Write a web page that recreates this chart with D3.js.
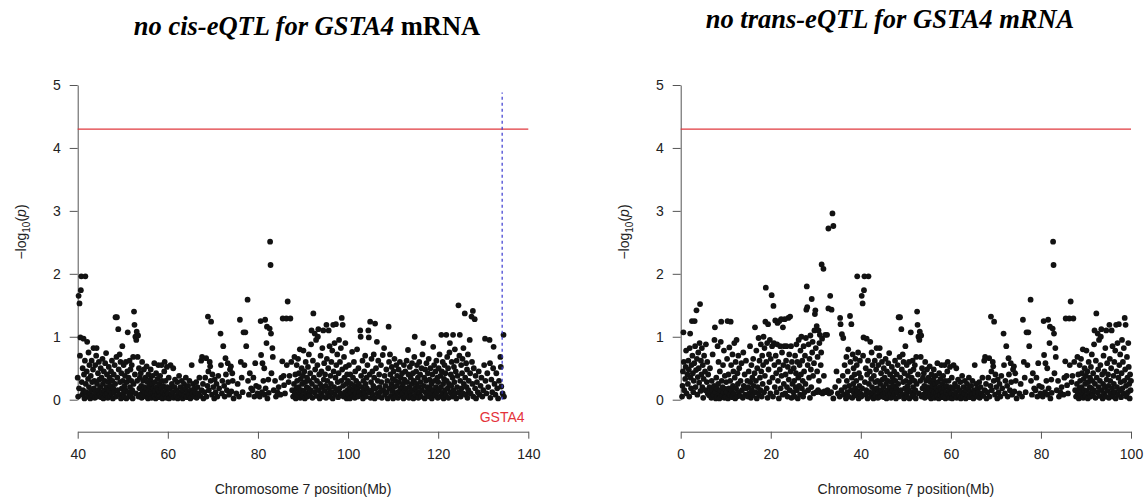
<!DOCTYPE html>
<html>
<head>
<meta charset="utf-8">
<script src="https://cdn.jsdelivr.net/npm/d3@7"></script>
<style>
  body { margin: 0; background: #fff; }
</style>
</head>
<body>
<svg id="chart" width="1146" height="500"></svg>
<script>
// [position (Mb), -log10(p)] on chromosome 7
var snps0to40 = [
  [0.3,0.05],[0.4,0.22],[0.5,0.45],[0.6,1.07],[0.7,0.6],[0.8,0.15],[1.0,0.33],[1.1,0.52],[1.2,0.78],[1.3,0.1],[1.5,0.4],[1.6,0.25],[1.7,0.62],[1.8,0.48],[1.9,0.05],[2.0,0.82],[2.1,1.05],[2.2,0.35],[2.3,0.18],[2.4,0.55],
  [2.5,1.25],[2.6,0.7],[2.7,0.42],[2.8,0.12],[2.9,0.3],[3.0,0.58],[3.1,1.25],[3.2,0.85],[3.3,0.2],[3.4,0.47],[3.5,1.42],[3.6,0.65],[3.7,0.08],[3.8,0.36],[3.9,0.75],
  [4.0,0.5],[4.1,0.27],[4.2,0.9],[4.3,1.52],[4.4,0.14],[4.5,0.62],[4.6,0.4],[4.7,0.82],[4.8,0.2],[4.9,0.55],[5.0,0.03],[5.1,0.33],[5.2,0.7],[5.4,0.45],[5.5,0.15],[5.6,0.88],[5.8,0.28],[5.9,0.6],
  [6.0,0.1],[6.1,0.4],[6.3,0.07],[6.4,0.2],[6.5,0.5],[6.6,0.13],[6.8,0.03],[6.9,0.3],[7.0,0.16],[7.1,0.72],[7.3,0.08],[7.4,0.22],[7.5,0.95],[7.6,1.15],[7.7,0.12],[7.8,0.02],[7.9,0.35],
  [8.0,0.18],[8.1,0.05],[8.2,0.85],[8.3,0.25],[8.4,0.6],[8.5,0.1],[8.6,0.02],[8.7,0.45],[8.8,0.15],[8.9,0.92],[9.0,1.24],[9.1,0.3],[9.2,0.07],[9.3,0.2],[9.4,0.55],[9.5,0.12],[9.6,0.78],[9.7,0.03],[9.8,0.38],[9.9,0.17],
  [10.0,0.05],[10.1,0.28],[10.2,0.12],[10.3,0.65],[10.4,1.25],[10.5,0.02],[10.6,0.4],[10.7,0.18],[10.8,0.83],[10.9,0.08],[11.0,0.3],[11.1,1.24],[11.2,0.55],[11.3,0.15],[11.4,0.04],[11.5,0.72],[11.6,0.22],[11.7,0.45],[11.8,0.1],[11.9,0.9],
  [12.0,0.35],[12.1,0.02],[12.2,0.6],[12.3,0.18],[12.4,0.95],[12.5,0.05],[12.6,0.42],[12.7,0.25],[12.8,0.7],[12.9,0.12],[13.0,0.5],[13.2,0.06],[13.3,0.3],[13.5,0.58],[13.6,0.15],[13.8,0.03],[13.9,0.75],[14.0,0.22],[14.2,0.4],[14.3,0.08],[14.5,0.62],[14.6,0.18],[14.8,0.3],[14.9,0.05],
  [15.0,0.2],[15.1,0.45],[15.2,0.1],[15.4,0.85],[15.5,0.28],[15.6,0.03],[15.7,0.55],[15.8,0.15],[15.9,0.35],[16.0,0.07],[16.1,0.65],[16.2,0.22],[16.4,0.42],[16.5,1.15],[16.6,0.12],[16.7,0.3],[16.8,0.78],[16.9,0.02],[17.0,0.5],[17.1,0.2],[17.3,0.98],[17.4,0.08],[17.5,0.62],[17.6,0.35],[17.7,0.15],[17.8,0.88],[17.9,0.45],
  [18.0,0.05],[18.1,0.7],[18.2,0.25],[18.3,0.55],[18.4,1.0],[18.5,0.12],[18.6,0.82],[18.7,0.38],[18.8,1.24],[18.9,1.78],[19.0,0.6],[19.1,0.18],[19.2,0.9],[19.3,0.03],[19.4,1.2],[19.5,0.48],[19.6,0.72],[19.7,0.28],[19.8,0.95],[19.9,0.1],
  [20.0,0.65],[20.2,1.66],[20.3,0.85],[20.4,0.35],[20.5,0.05],[20.6,1.49],[20.7,0.9],[20.8,0.55],[20.9,0.2],[21.0,1.26],[21.1,0.7],[21.2,0.42],[21.3,0.12],[21.4,0.88],[21.5,1.22],[21.6,0.3],[21.7,0.6],[21.8,0.02],[21.9,1.25],
  [22.0,0.48],[22.1,0.85],[22.2,0.18],[22.3,1.28],[22.4,0.38],[22.5,0.75],[22.6,0.08],[22.7,1.15],[22.8,0.55],[22.9,0.25],[23.0,0.85],[23.1,1.28],[23.2,0.1],[23.3,0.4],[23.4,0.62],[23.5,0.85],[23.6,0.2],[23.7,0.05],[23.8,0.52],[23.9,1.3],
  [24.0,0.32],[24.1,0.72],[24.2,0.15],[24.3,1.32],[24.4,0.45],[24.5,0.85],[24.6,0.03],[24.7,0.6],[24.8,0.25],
  [25.0,0.12],[25.1,0.5],[25.2,0.3],[25.3,0.05],[25.4,0.7],[25.5,0.2],[25.6,0.42],[25.7,0.88],[25.8,0.15],[25.9,0.6],[26.0,0.02],[26.1,0.35],[26.2,0.95],[26.3,0.22],[26.4,0.55],[26.5,0.08],[26.6,0.78],[26.7,0.4],[26.8,1.0],[26.9,0.18],
  [27.0,0.62],[27.1,0.3],[27.2,0.05],[27.3,0.85],[27.4,0.45],[27.5,0.12],[27.6,0.7],[27.7,0.25],[27.8,0.98],[27.9,1.43],[28.0,1.8],[28.1,1.47],[28.2,0.55],[28.3,0.15],[28.4,0.88],[28.5,0.35],[28.6,0.65],[28.7,0.03],[28.8,1.02],[28.9,0.48],
  [29.0,0.2],[29.1,1.6],[29.2,0.75],[29.3,0.92],[29.4,0.38],[29.5,0.1],[29.6,0.58],[29.7,1.1],[29.8,1.36],[29.9,1.42],[30.0,0.82],[30.1,0.12],[30.2,1.17],[30.3,0.45],[30.4,0.68],[30.5,0.15],[30.6,1.1],[30.7,0.3],[30.8,0.9],[30.9,1.03],
  [31.0,0.12],[31.1,0.55],[31.2,0.75],[31.3,2.15],[31.4,0.97],[31.5,0.1],[31.7,2.08],[31.8,0.38],[31.9,0.13],
  [32.1,1.03],[32.2,0.12],[32.5,1.03],[32.6,0.15],[32.8,2.72],[32.8,1.45],[33.0,0.1],[33.2,1.65],[33.4,0.12],[33.5,1.43],[33.7,2.96],[33.9,2.76],[33.9,0.02],[34.3,0.2],[34.6,0.45],[34.9,0.1],[35.1,0.3],[35.3,0.05],[35.4,1.3],[35.5,1.2],[35.7,0.15],[35.8,1.04],
  [36.0,0.38],[36.1,0.98],[36.2,0.08],[36.4,0.55],[36.5,0.2],[36.7,0.02],[36.8,0.68],[36.9,0.3],[37.0,0.12],[37.1,0.45],[37.2,0.8],[37.3,0.05],[37.4,0.22],[37.6,1.33],[37.7,0.6],[37.8,0.15],[37.9,1.2],
  [38.0,0.35],[38.1,0.03],[38.2,0.72],[38.3,0.25],[38.4,0.5],[38.5,0.1],[38.6,0.4],[38.7,0.18],[38.8,0.65],[38.9,0.07],[39.0,0.3],[39.1,0.55],[39.2,1.96],[39.3,0.14],[39.4,0.75],[39.5,0.02],[39.6,0.42],[39.7,0.22],[39.8,0.62],[39.9,0.1]
];

var snps40to100 = [
  [40.0,0.35],[40.1,0.05],[40.2,1.65],[40.3,0.18],[40.4,1.53],[40.5,0.7],[40.6,0.99],[40.7,1.74],[40.8,1.96],[40.9,0.28],[41.0,0.08],[41.1,0.5],[41.2,0.15],[41.3,0.97],[41.4,0.4],[41.5,0.02],[41.6,0.62],[41.7,1.96],[41.8,0.25],[41.9,0.12],
  [42.0,0.45],[42.1,0.92],[42.2,0.05],[42.3,0.33],[42.4,0.75],[42.5,0.2],[42.6,0.55],[42.7,0.1],[42.8,0.02],[42.9,0.38],[43.0,0.15],[43.1,0.62],[43.2,0.28],[43.3,0.06],[43.4,0.48],[43.5,0.82],[43.6,0.18],[43.7,0.3],[43.8,0.03],[43.9,0.55],
  [44.0,0.12],[44.1,0.7],[44.2,0.82],[44.3,0.25],[44.4,0.05],[44.5,0.42],[44.6,0.15],[44.7,0.6],[44.8,0.32],[44.9,0.08],
  [45.0,0.2],[45.1,0.5],[45.2,0.04],[45.3,0.35],[45.4,0.12],[45.5,0.65],[45.6,0.25],[45.7,0.02],[45.8,0.45],[45.9,0.15],[46.0,0.3],[46.1,0.58],[46.2,0.08],[46.3,0.74],[46.4,0.2],[46.5,0.4],[46.6,0.1],[46.7,0.03],[46.8,0.28],[46.9,0.52],
  [47.0,0.15],[47.1,0.35],[47.2,0.06],[47.3,0.22],[47.4,0.45],[47.5,0.1],[47.6,0.62],[47.7,0.3],[47.8,0.02],[47.9,0.18],[48.0,0.4],[48.1,0.12],[48.2,0.55],[48.3,0.25],[48.4,1.31],[48.5,0.05],[48.6,0.68],[48.7,1.31],[48.8,0.35],[48.9,0.15],
  [49.0,1.12],[49.1,0.48],[49.2,0.08],[49.3,0.72],[49.4,0.28],[49.5,0.6],[49.6,0.02],[49.7,0.42],[49.8,0.18],[49.9,0.85],
  [50.0,0.3],[50.1,0.1],[50.2,0.55],[50.3,0.04],[50.4,0.22],[50.5,0.38],[50.6,0.15],[50.7,0.6],[50.8,0.02],[50.9,0.28],[51.0,0.45],[51.1,1.07],[51.2,0.12],[51.3,0.35],[51.4,0.05],[51.5,0.62],[51.6,0.2],[51.7,0.48],[51.8,0.08],[51.9,0.3],
  [52.0,0.55],[52.1,0.15],[52.2,0.02],[52.3,0.68],[52.4,0.25],[52.5,1.4],[52.6,1.19],[52.7,0.4],[52.8,1.0],[52.9,0.1],[53.0,0.95],[53.1,1.08],[53.2,0.3],[53.3,0.68],[53.4,1.02],[53.5,0.05],[53.6,0.5],[53.7,0.18],[53.8,0.35],[53.9,0.08],
  [54.0,0.42],[54.1,0.22],[54.2,0.03],[54.3,0.6],[54.4,0.15],[54.5,0.3],[54.6,0.07],[54.7,0.48],[54.8,0.2],[54.9,0.12],
  [55.0,0.35],[55.1,0.05],[55.2,0.18],[55.3,0.53],[55.4,0.1],[55.5,0.28],[55.6,0.02],[55.7,0.4],[55.8,0.15],[55.9,0.22],[56.0,0.08],[56.1,0.32],[56.2,0.48],[56.3,0.12],[56.4,0.03],[56.5,0.25],[56.6,0.38],[56.7,0.1],[56.8,0.18],[56.9,0.05],
  [57.0,0.58],[57.1,0.28],[57.2,0.14],[57.3,0.02],[57.4,0.42],[57.5,0.2],[57.6,0.08],[57.7,0.33],[57.8,0.15],[57.9,0.55],[58.0,0.04],[58.1,0.25],[58.2,0.12],[58.3,0.38],[58.4,0.06],[58.5,0.18],[58.6,0.55],[58.7,0.3],[58.8,0.02],[58.9,0.12],
  [59.0,0.22],[59.2,0.45],[59.3,0.6],[59.4,0.08],[59.5,0.3],[59.6,0.15],[59.7,0.03],[59.8,0.52],[59.9,0.2],
  [60.0,0.1],[60.2,0.35],[60.3,0.02],[60.5,0.18],[60.6,0.55],[60.8,0.08],[60.9,0.25],[61.1,0.12],[61.2,0.5],[61.3,0.03],[61.5,0.2],[61.6,0.32],[61.8,0.06],[61.9,0.15],[62.1,0.28],[62.2,0.02],[62.4,0.12],[62.5,0.38],[62.7,0.05],[62.8,0.2],
  [63.0,0.1],[63.1,0.3],[63.3,0.02],[63.4,0.15],[63.6,0.25],[63.7,0.07],[63.9,0.18],[64.0,0.35],[64.2,0.04],[64.3,0.12],[64.5,0.22],[64.7,0.08],[64.8,0.3],[65.0,0.02],[65.1,0.15],[65.3,0.55],[65.4,0.1],[65.6,0.25],[65.8,0.05],[65.9,0.18],
  [66.1,0.12],[66.3,0.28],[66.4,0.03],[66.6,0.2],[66.8,0.1],[67.0,0.35],[67.2,0.06],[67.4,0.62],[67.5,0.15],[67.6,0.68],[67.8,0.25],[67.9,0.02],
  [68.1,0.12],[68.3,0.35],[68.5,0.66],[68.6,0.05],[68.8,0.22],[68.9,1.32],[69.0,0.45],[69.1,0.15],[69.3,0.6],[69.4,0.53],[69.5,0.3],[69.6,1.24],[69.8,0.08],[69.9,0.4],
  [70.1,0.2],[70.3,0.02],[70.4,0.32],[70.6,0.12],[70.8,0.25],[71.0,0.05],[71.2,0.38],[71.4,0.18],[71.7,1.05],[71.8,0.55],[72.0,0.1],[72.1,0.3],[72.3,0.85],[72.5,0.22],[72.6,0.05],[72.8,0.66],[72.9,0.4],
  [73.1,0.15],[73.3,0.58],[73.4,0.28],[73.6,0.08],[73.8,0.48],[74.0,0.53],[74.1,0.13],[74.3,0.42],[74.4,0.3],[74.6,0.02],
  [75.2,0.1],[75.5,0.25],[75.8,0.05],[76.0,1.27],[76.2,0.6],[76.4,0.35],[76.6,0.12],[76.8,1.07],[77.0,0.55],[77.2,1.07],[77.4,0.85],[77.7,1.59],[77.8,0.3],
  [78.0,0.08],[78.2,0.42],[78.5,0.18],[78.8,0.15],[79.0,0.35],[79.2,0.05],[79.4,0.58],[79.6,0.22],[79.9,0.1],
  [80.2,0.2],[80.4,0.05],[80.6,1.25],[80.7,0.71],[80.9,0.12],[81.0,0.58],[81.2,0.3],[81.4,0.5],[81.5,0.08],[81.6,1.27],[81.7,0.18],[81.9,0.9],
  [82.0,1.16],[82.1,0.02],[82.3,0.32],[82.4,0.11],[82.6,1.13],[82.7,2.51],[82.8,2.14],[82.9,1.05],[83.0,0.42],[83.2,0.82],[83.3,0.68],[83.5,0.15],[83.8,0.3],
  [84.0,0.05],[84.3,0.12],[84.6,0.2],[85.0,0.08],[85.2,0.35],[85.4,0.61],[85.5,1.29],[85.7,0.38],[85.8,0.23],[86.0,0.1],[86.3,1.29],[86.4,0.55],[86.6,1.56],[86.8,0.28],
  [87.0,0.38],[87.2,1.29],[87.4,0.6],[87.6,0.15],[87.8,0.05],
  [88.0,0.25],[88.1,0.68],[88.2,0.1],[88.3,0.4],[88.4,0.02],[88.5,0.18],[88.6,0.55],[88.7,0.3],[88.8,0.08],[88.9,0.65],[89.0,0.2],[89.1,0.42],[89.2,0.12],[89.3,0.8],[89.4,0.03],[89.5,0.33],[89.6,0.15],[89.7,0.5],[89.8,0.25],[89.9,0.06],
  [90.0,0.38],[90.1,0.78],[90.2,0.14],[90.3,0.45],[90.4,0.02],[90.5,0.28],[90.6,0.6],[90.7,0.1],[90.8,0.2],[90.9,0.35],[91.0,0.05],[91.1,0.52],[91.2,0.18],[91.3,0.72],[91.4,0.3],[91.5,0.08],[91.6,0.42],[91.7,0.15],[91.8,0.88],[91.9,1.1],
  [92.0,0.25],[92.1,0.03],[92.2,0.62],[92.3,1.37],[92.4,0.35],[92.5,0.12],[92.6,1.05],[92.7,0.48],[92.8,0.2],[92.9,0.95],[93.0,0.06],[93.1,0.3],[93.2,0.55],[93.3,1.0],[93.4,1.12],[93.5,0.15],[93.6,0.4],[93.7,0.02],[93.8,0.25],[93.9,0.7],
  [94.0,0.1],[94.1,0.45],[94.2,0.2],[94.3,0.82],[94.4,0.05],[94.5,1.1],[94.6,0.32],[94.7,0.58],[94.8,0.14],[94.9,0.4],[95.0,0.22],[95.1,0.03],[95.2,1.19],[95.3,0.65],[95.4,0.3],[95.5,0.1],[95.6,0.5],[95.7,1.1],[95.8,0.18],[95.9,0.85],
  [96.0,0.05],[96.1,0.38],[96.2,0.25],[96.3,0.6],[96.4,0.12],[96.5,0.78],[96.6,0.02],[96.7,1.19],[96.8,0.45],[96.9,0.2],[97.0,0.9],[97.1,0.08],[97.2,0.35],[97.3,1.2],[97.4,0.55],[97.5,0.15],[97.6,0.72],[97.7,0.28],[97.8,0.04],[97.9,0.42],
  [98.0,0.95],[98.1,0.18],[98.2,0.6],[98.3,0.1],[98.4,0.82],[98.5,0.3],[98.6,1.3],[98.7,0.48],[98.8,1.19],[98.9,0.22],[99.0,0.05],[99.1,0.68],[99.2,0.35],[99.3,0.12],[99.4,0.9],[99.5,0.52],[99.6,0.25],[99.7,0.02],[99.8,0.4],[99.9,0.15]
];

var snps100to135 = [
  [100.0,0.3],[100.1,0.08],[100.2,0.55],[100.3,0.18],[100.4,0.02],[100.5,0.4],[100.6,0.12],[100.7,0.25],[100.9,0.76],[101.0,0.05],[101.1,0.35],[101.2,0.15],[101.3,0.6],[101.4,0.22],[101.5,0.03],[101.6,0.45],[101.7,0.1],[101.8,0.3],
  [102.0,0.8],[102.1,0.18],[102.2,0.05],[102.3,0.5],[102.4,0.25],[102.5,0.12],[102.7,1.1],[102.8,1.0],[102.9,0.38],[103.0,0.08],[103.1,0.2],[103.2,0.62],[103.3,0.02],[103.4,0.3],[103.5,0.15],[103.6,0.45],[103.7,0.1],[103.8,0.7],[103.9,0.25],
  [104.0,0.05],[104.1,0.35],[104.2,0.18],[104.3,0.55],[104.5,1.1],[104.6,0.99],[104.7,0.12],[104.8,0.4],[104.9,1.24],[105.0,0.03],[105.1,0.28],[105.2,0.65],[105.3,0.15],[105.4,0.45],[105.5,0.08],[105.6,0.22],[105.7,0.72],[105.8,0.35],[105.9,0.02],
  [106.0,1.21],[106.1,0.18],[106.2,0.5],[106.4,0.92],[106.5,0.1],[106.6,0.3],[106.7,0.62],[106.8,0.05],[106.9,0.4],[107.0,0.2],[107.1,0.12],[107.3,0.55],[107.4,0.28],[107.5,0.03],[107.7,0.71],[107.8,0.15],
  [108.0,0.82],[108.1,0.38],[108.2,0.08],[108.3,0.22],[108.5,0.48],[108.6,0.12],[108.7,0.3],[108.8,0.02],[109.0,1.16],[109.1,0.6],[109.2,0.18],[109.3,0.72],[109.4,0.4],[109.5,0.06],[109.6,0.25],[109.7,0.52],[109.8,0.14],[109.9,0.33],
  [110.0,0.02],[110.1,0.45],[110.2,0.2],[110.3,0.65],[110.4,0.1],[110.5,0.3],[110.6,0.05],[110.7,0.55],[110.8,0.22],[110.9,0.38],[111.0,0.12],[111.1,0.03],[111.2,0.48],[111.3,0.28],[111.5,0.6],[111.6,0.15],[111.7,0.35],[111.8,0.07],[111.9,0.2],
  [112.0,0.42],[112.1,0.1],[112.2,0.25],[112.3,0.02],[112.4,0.55],[112.5,0.32],[112.6,0.15],[112.7,0.45],[112.8,0.05],[112.9,0.18],[113.0,0.62],[113.1,0.28],[113.2,0.1],[113.3,0.79],[113.4,0.4],[113.5,0.03],[113.6,0.2],[113.7,0.52],[113.8,0.12],[113.9,0.35],
  [114.0,0.06],[114.1,0.25],[114.2,0.58],[114.3,0.15],[114.4,0.42],[114.5,0.02],[114.6,0.3],[114.7,0.68],[114.8,1.0],[114.9,0.18],[115.0,0.08],[115.1,0.45],[115.2,0.25],[115.3,0.55],[115.4,0.12],[115.5,0.35],[115.6,0.03],[115.7,0.2],[115.8,0.6],[115.9,0.1],
  [116.0,0.4],[116.1,0.28],[116.2,0.05],[116.3,0.5],[116.4,0.15],[116.5,0.72],[116.7,0.9],[116.8,0.22],[116.9,0.35],[117.0,0.02],[117.1,0.48],[117.2,0.12],[117.3,0.3],[117.4,0.58],[117.5,0.08],[117.6,0.2],[117.7,0.42],[117.8,0.15],[117.9,0.65],
  [118.0,0.05],[118.1,0.32],[118.2,0.18],[118.3,0.5],[118.4,0.1],[118.5,0.25],[118.6,0.02],[118.7,0.4],[118.9,0.84],[119.0,0.15],[119.1,0.55],[119.2,0.3],[119.3,0.07],[119.4,0.45],[119.5,0.2],[119.6,0.62],[119.7,0.12],[119.8,0.35],[119.9,0.03],
  [120.0,0.28],[120.1,0.5],[120.2,0.15],[120.3,0.72],[120.4,0.05],[120.5,0.38],[120.6,0.2],[120.7,1.03],[120.8,0.45],[120.9,0.1],[121.0,0.6],[121.1,0.25],[121.2,0.02],[121.3,0.33],[121.4,0.55],[121.5,0.15],[121.6,0.42],[121.7,0.08],[121.8,1.03],[121.9,0.3],
  [122.0,0.68],[122.1,0.18],[122.2,0.5],[122.3,0.03],[122.4,0.25],[122.5,0.75],[122.6,0.9],[122.7,0.12],[122.8,0.4],[122.9,0.22],[123.0,0.6],[123.1,0.05],[123.2,0.35],[123.3,1.03],[123.4,0.15],[123.5,0.52],[123.6,0.28],[123.7,0.8],[123.8,0.1],[123.9,0.45],
  [124.0,0.02],[124.1,0.62],[124.2,0.2],[124.3,0.38],[124.5,1.5],[124.6,0.12],[124.7,0.7],[124.8,1.03],[124.9,0.3],[125.0,0.05],[125.1,0.55],[125.2,0.18],[125.3,0.42],[125.4,0.65],[125.5,0.1],[125.6,0.82],[125.7,0.25],[125.9,1.37],
  [126.0,0.35],[126.1,0.08],[126.2,0.58],[126.3,0.2],[126.4,0.48],[126.5,0.03],[126.6,0.72],[126.7,0.15],[126.8,0.3],[127.0,0.95],[127.1,0.42],[127.2,0.1],[127.4,1.32],[127.5,0.6],[127.6,0.25],[127.7,1.41],[127.8,0.05],[127.9,0.5],
  [128.1,1.28],[128.2,0.18],[128.3,0.38],[128.4,0.02],[128.6,0.28],[128.8,0.12],[129.0,0.45],[129.2,0.08],[129.4,0.22],[129.6,0.35],[129.8,0.05],
  [130.0,0.15],[130.2,0.55],[130.4,0.97],[130.5,0.3],[130.7,0.1],[130.9,0.42],[131.1,0.2],[131.4,0.95],[131.5,0.58],[131.6,0.03],[131.8,0.32],
  [132.0,0.12],[132.2,0.5],[132.3,0.84],[132.5,0.25],[132.7,0.08],[132.9,0.42],[133.1,0.18],[133.3,0.02],[133.5,0.3],[133.8,0.68],[133.9,0.52],
  [134.0,0.21],[134.3,0.1],[134.5,1.03],[134.6,0.05]
];

var yTicks = [0, 1, 2, 3, 4, 5];
var cisTicks = [40, 60, 80, 100, 120, 140];
var transTicks = [0, 20, 40, 60, 80, 100];
var threshold = 4.3;          // genome-wide significance line
var gsta4Pos = 134.2;         // GSTA4 gene position (Mb)
var gsta4Top = 4.88;

var svg = d3.select("#chart");
var allSnps = snps0to40.concat(snps40to100, snps100to135);

var sansFont = '"Liberation Sans", Arial, Helvetica, sans-serif';
var serifFont = '"Liberation Serif", "Times New Roman", Times, serif';

function drawPanel(opt) {
  var x = d3.scaleLinear().domain(opt.domain).range([opt.left, opt.right]);
  var y = d3.scaleLinear().domain([0, 5]).range([399.7, 85]);
  var g = svg.append("g").attr("class", opt.name);

  // y axis
  var yAxis = g.append("g")
    .attr("transform", "translate(" + opt.left + ",0)")
    .call(d3.axisLeft(y).tickValues(yTicks).tickSize(8).tickSizeOuter(0).tickPadding(9).tickFormat(d3.format("d")));
  yAxis.selectAll("text").style("font-size", "14px").attr("font-family", sansFont).attr("fill", "#222");
  yAxis.selectAll("line, path").attr("stroke", "#555");

  // x axis, detached below the plot like base R
  var xAxis = g.append("g")
    .attr("transform", "translate(0,431.7)")
    .call(d3.axisBottom(x).tickValues(opt.ticks).tickSize(7).tickSizeOuter(0).tickPadding(10).tickFormat(d3.format("d")));
  xAxis.selectAll("text").style("font-size", "14px").attr("font-family", sansFont).attr("fill", "#222");
  xAxis.selectAll("line, path").attr("stroke", "#555");

  g.append("text")
    .attr("x", (opt.left + opt.right) / 2)
    .attr("y", 494)
    .style("text-anchor", "middle")
    .style("font-size", "14px")
    .attr("font-family", sansFont)
    .attr("fill", "#222")
    .text("Chromosome 7 position(Mb)");

  // y label: −log10(p)
  var yl = g.append("text")
    .attr("transform", "translate(" + (opt.left - 52) + ",232) rotate(-90)")
    .style("text-anchor", "middle")
    .style("font-size", "14px")
    .attr("font-family", sansFont)
    .attr("fill", "#222");
  yl.append("tspan").text("\u2212log");
  yl.append("tspan").attr("dy", 4).style("font-size", "10px").text("10");
  yl.append("tspan").attr("dy", -4).text("(");
  yl.append("tspan").style("font-style", "italic").text("p");
  yl.append("tspan").text(")");

  // threshold line
  g.append("line")
    .attr("x1", opt.left).attr("x2", opt.right)
    .attr("y1", y(threshold)).attr("y2", y(threshold))
    .attr("stroke", "#e0393e").attr("stroke-width", 1.2);

  var pts = allSnps.filter(function (d) {
    return d[0] >= opt.domain[0] && d[0] <= opt.domain[1];
  });
  g.append("g").selectAll("circle")
    .data(pts)
    .enter().append("circle")
    .attr("cx", function (d) { return x(d[0]); })
    .attr("cy", function (d) { return y(d[1]); })
    .attr("r", 2.9)
    .attr("fill", "#121212");

  if (opt.gene) {
    g.append("line")
      .attr("x1", x(gsta4Pos)).attr("x2", x(gsta4Pos))
      .attr("y1", y(0)).attr("y2", y(gsta4Top))
      .attr("stroke", "#3a3ad0").attr("stroke-width", 1.2)
      .attr("stroke-dasharray", "3,3");
    g.append("text")
      .attr("x", x(gsta4Pos))
      .attr("y", 422)
      .style("text-anchor", "middle")
      .style("font-size", "14px")
      .attr("font-family", sansFont)
      .attr("fill", "#e4323a")
      .text("GSTA4");
  }

  var t = svg.append("text")
    .attr("x", opt.titleX)
    .attr("y", opt.titleY)
    .style("text-anchor", "middle")
    .style("font-size", "26.5px")
    .style("font-weight", "bold")
    .attr("font-family", serifFont);
  opt.title.forEach(function (part) {
    t.append("tspan").style("font-style", part[1] ? "italic" : "normal").text(part[0]);
  });
}

drawPanel({
  name: "cis", domain: [40, 140], left: 77.7, right: 528.3, ticks: cisTicks, gene: true,
  titleX: 307, titleY: 35,
  title: [["no cis-eQTL for GSTA4", true], [" mRNA", false]]
});

drawPanel({
  name: "trans", domain: [0, 100], left: 680.7, right: 1131, ticks: transTicks, gene: false,
  titleX: 890, titleY: 28,
  title: [["no trans-eQTL for GSTA4 mRNA", true]]
});
</script>
</body>
</html>
